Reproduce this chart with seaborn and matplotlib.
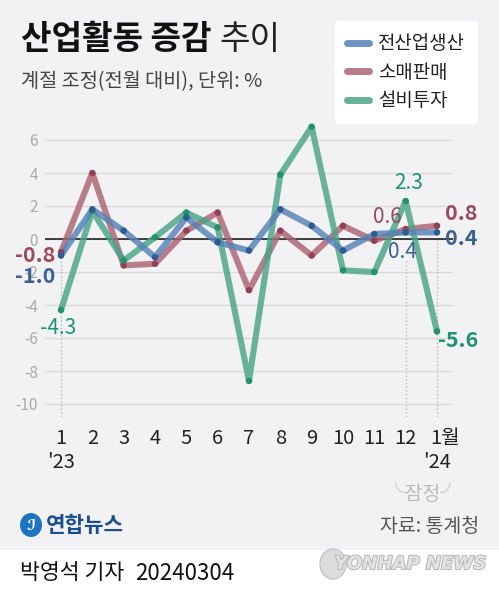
import matplotlib
matplotlib.use("Agg")
import matplotlib.pyplot as plt
import matplotlib.transforms as mtransforms
from matplotlib.patches import Ellipse, Rectangle
import matplotlib.patheffects as pe
import seaborn as sns
import pandas as pd

# data (month-on-month change, %)
months = list(range(1, 14))
month_labels = ["1", "2", "3", "4", "5", "6", "7", "8", "9", "10", "11", "12", "1월"]
series_names = ["전산업생산", "소매판매", "설비투자"]
production = [-1.0, 1.8, 0.5, -1.1, 1.3, -0.2, -0.7, 1.8, 0.8, -0.7, 0.3, 0.4, 0.4]
retail = [-0.8, 4.0, -1.6, -1.5, 0.5, 1.6, -3.1, 0.5, -1.0, 0.8, -0.1, 0.6, 0.8]
facility = [-4.3, 1.7, -1.3, 0.1, 1.6, 0.7, -8.6, 3.9, 6.8, -1.9, -2.0, 2.3, -5.6]
yticks = [-10, -8, -6, -4, -2, 0, 2, 4, 6]

line_colors = {"전산업생산": "#5582b6", "소매판매": "#ad6473", "설비투자": "#4aa488"}
dot_colors = {"전산업생산": "#2e5c92", "소매판매": "#94405a", "설비투자": "#23906e"}
label_colors = {"전산업생산": "#3d6190", "소매판매": "#9b4a5c", "설비투자": "#1f9474"}

sns.set_style("white")
plt.rcParams["font.family"] = ["Noto Sans CJK KR", "DejaVu Sans"]

BG = "#f2f2f4"
W, H = 499, 596
fig = plt.figure(figsize=(W / 100, H / 100), dpi=100, facecolor=BG)

def fx(px):
    return px / W

def fy(py):
    return 1 - py / H

ax = fig.add_axes([fx(45), fy(417.2), 408 / W, 297 / H])
ax.set_facecolor(BG)

df = pd.DataFrame({
    "month": months * 3,
    "value": production + retail + facility,
    "series": [series_names[0]] * 13 + [series_names[1]] * 13 + [series_names[2]] * 13,
})

draw_order = ["소매판매", "설비투자", "전산업생산"]
for name in draw_order:
    sub = df[df["series"] == name]
    sns.lineplot(data=sub, x="month", y="value", ax=ax, color=line_colors[name],
                 lw=4.4, alpha=0.82, solid_capstyle="round", solid_joinstyle="round",
                 zorder=3, legend=False)
    sns.scatterplot(data=sub, x="month", y="value", ax=ax, color=dot_colors[name],
                    s=22, edgecolor="none", zorder=4, legend=False)

ax.axhline(0, color="#111111", lw=1.1, zorder=2)

ax.set_xlim(0.489, 13.511)
ax.set_ylim(-10.8, 7.2)
ax.set_yticks(yticks)
ax.set_yticklabels([str(v) for v in yticks])
ax.grid(axis="y", color="#d9d9dc", lw=1)
ax.grid(axis="x", visible=False)
for s in ax.spines.values():
    s.set_visible(False)
ax.tick_params(axis="y", length=0, pad=5, labelsize=11, labelcolor="#aaaaaa")
ax.set_xticks(months)
ax.set_xticklabels(month_labels)
ax.tick_params(axis="x", length=0, pad=8, labelsize=14.5, labelcolor="#222222")
last = ax.get_xticklabels()[-1]
last.set_ha("left")
last.set_transform(last.get_transform() + mtransforms.ScaledTranslation(-5 / 72, 0, fig.dpi_scale_trans))
ax.set_xlabel("")
ax.set_ylabel("")

# dotted guides
ax.vlines(1, -10.8, -1.1, color="#bbbbbb", lw=1, ls=":", zorder=1)
ax.vlines(12, -10.8, -1.3, color="#bbbbbb", lw=1, ls=":", zorder=1)
ax.vlines(13, -10.8, 0.1, color="#bbbbbb", lw=1, ls=":", zorder=1)

# value labels
def lab(x, y, txt, name, dx, dy, ha, bold):
    ax.annotate(txt, xy=(x, y), xytext=(dx, dy), textcoords="offset pixels",
                ha=ha, va="center", fontsize=15.5 if bold else 15,
                fontweight="bold" if bold else "normal",
                color=label_colors[name], zorder=6)

lab(1, retail[0], "-0.8", "소매판매", -6, -3, "right", True)
lab(1, production[0], "-1.0", "전산업생산", -6, -21, "right", True)
lab(1, facility[0], "-4.3", "설비투자", -3, -18, "center", False)
lab(12, facility[11], "2.3", "설비투자", 3, 18, "center", False)
lab(12, retail[11], "0.6", "소매판매", -4, 12, "right", False)
lab(12, production[11], "0.4", "전산업생산", -3, -20, "center", False)
lab(13, retail[12], "0.8", "소매판매", 8, 12, "left", True)
lab(13, production[12], "0.4", "전산업생산", 8, -6, "left", True)
lab(13, facility[12], "-5.6", "설비투자", 1, -9, "left", True)

# year labels
trans = mtransforms.blended_transform_factory(ax.transData, fig.transFigure)
ax.text(1, fy(463), "'23", transform=trans, ha="center", va="center", fontsize=14.5, color="#222222")
ax.text(13, fy(463), "'24", transform=trans, ha="center", va="center", fontsize=14.5, color="#222222")
ax.text(12.55, fy(495), "╰잠정╯", transform=trans, ha="center", va="center", fontsize=14, color="#bbbbbb")

# legend
handles = [plt.Line2D([], [], color=line_colors[n], lw=5, alpha=0.85, solid_capstyle="round") for n in series_names]
leg = ax.legend(handles, series_names, loc="upper left", bbox_to_anchor=(fx(335), fy(21)),
                bbox_transform=fig.transFigure, frameon=True, facecolor="white", edgecolor="none",
                framealpha=1, fontsize=13.6, handlelength=1.15, handletextpad=0.5,
                labelspacing=0.4, borderpad=0.65, borderaxespad=0)
for t in leg.get_texts():
    t.set_color("#222222")

# title block
fig.text(fx(21), fy(40), "산업활동 증감", fontsize=23.9, fontweight="bold", color="#111111", va="center")
fig.text(fx(219), fy(40), "추이", fontsize=23.9, fontweight="light", color="#222222", va="center")
fig.text(fx(21), fy(82), "계절 조정(전월 대비), 단위: %", fontsize=14.2, color="#444444", va="center")

# footer
fig.patches.append(Rectangle((0, 0), 1, 46 / H, transform=fig.transFigure, facecolor="white",
                             edgecolor="none", zorder=0))
fig.patches.append(Ellipse((fx(31), fy(525)), 22 / W, 24 / H, transform=fig.transFigure,
                           facecolor="#1e74c0", edgecolor="none"))
fig.text(fx(31), fy(525), "ℐ", fontsize=11, color="white", ha="center", va="center",
         style="italic", fontweight="bold", family=["DejaVu Sans"])
fig.text(fx(46), fy(525), "연합뉴스", fontsize=15.3, fontweight="bold", color="#1a4f8f", va="center")
fig.text(fx(479), fy(526), "자료: 통계청", fontsize=14, color="#555555", ha="right", va="center")
fig.text(fx(20), fy(573), "박영석 기자", fontsize=15.6, color="#111111", va="center")
fig.text(fx(135), fy(573), "20240304", fontsize=16, color="#111111", va="center")
fig.patches.append(Ellipse((fx(333), fy(564)), 26 / W, 30 / H, transform=fig.transFigure,
                           facecolor="#dcdcdc", edgecolor="#c4c4c4", lw=1))
wm = fig.text(fx(486), fy(564), "YONHAP NEWS", fontsize=13, fontweight="bold", style="italic",
              color="#e2e2e2", ha="right", va="center", family=["DejaVu Sans"])
wm.set_path_effects([pe.withStroke(linewidth=1.5, foreground="#b8b8b8")])

fig.savefig("out.png", dpi=100, facecolor=BG)
